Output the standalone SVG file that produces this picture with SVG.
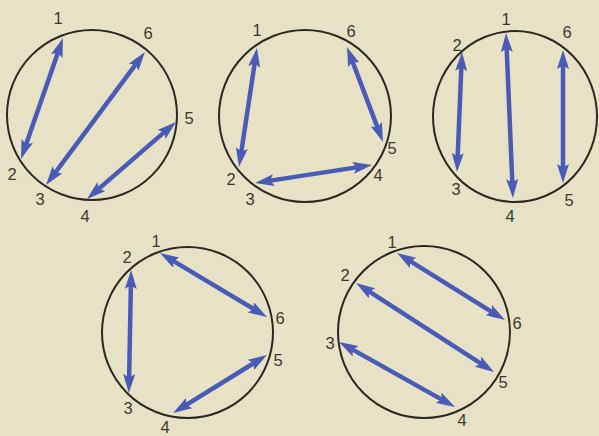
<svg xmlns="http://www.w3.org/2000/svg" width="599" height="436" viewBox="0 0 599 436">
<style>
.bg{fill:#e7e2c5}
.ring{fill:none;stroke:#2a2822;stroke-width:2}
.arr{stroke:#4a5bb6;stroke-width:4.5;fill:none;marker-start:url(#head);marker-end:url(#head)}
.lbl{font-family:"Liberation Sans",Arial,sans-serif;font-size:16.5px;fill:#3a3934;text-anchor:middle}
</style>
<defs>
<marker id="head" viewBox="0 0 19 12" markerWidth="19" markerHeight="12" refX="10" refY="6" markerUnits="userSpaceOnUse" orient="auto-start-reverse">
<path d="M0,0 L19,6 L0,12 L3.5,6 Z" fill="#4a5bb6"/>
</marker>
</defs>
<rect class="bg" x="0" y="0" width="599" height="436"/>

<g id="circle1">
<circle class="ring" cx="92" cy="115" r="85"/>
<text class="lbl" x="58" y="24">1</text>
<text class="lbl" x="12" y="180">2</text>
<text class="lbl" x="40" y="205">3</text>
<text class="lbl" x="85" y="222">4</text>
<text class="lbl" x="189" y="124">5</text>
<text class="lbl" x="148" y="39">6</text>
</g>
<g id="circle2">
<circle class="ring" cx="305" cy="116" r="86"/>
<text class="lbl" x="257" y="36">1</text>
<text class="lbl" x="231" y="185">2</text>
<text class="lbl" x="250" y="205">3</text>
<text class="lbl" x="378" y="181">4</text>
<text class="lbl" x="392" y="154">5</text>
<text class="lbl" x="351" y="37">6</text>
</g>
<g id="circle3">
<ellipse class="ring" cx="515" cy="116.5" rx="82" ry="85.5"/>
<text class="lbl" x="506" y="25">1</text>
<text class="lbl" x="457" y="51">2</text>
<text class="lbl" x="456" y="195">3</text>
<text class="lbl" x="510" y="222">4</text>
<text class="lbl" x="569" y="206">5</text>
<text class="lbl" x="567" y="38">6</text>
</g>
<g id="circle4">
<circle class="ring" cx="187.5" cy="332.5" r="85.5"/>
<text class="lbl" x="156" y="247">1</text>
<text class="lbl" x="127" y="263">2</text>
<text class="lbl" x="128" y="414">3</text>
<text class="lbl" x="165" y="433">4</text>
<text class="lbl" x="278" y="366">5</text>
<text class="lbl" x="280" y="324">6</text>
</g>
<g id="circle5">
<circle class="ring" cx="424" cy="332" r="86"/>
<text class="lbl" x="392" y="248">1</text>
<text class="lbl" x="345" y="281">2</text>
<text class="lbl" x="330" y="349">3</text>
<text class="lbl" x="462" y="426">4</text>
<text class="lbl" x="503" y="388">5</text>
<text class="lbl" x="517" y="329">6</text>
</g>

<g id="connectors">
<line class="arr" x1="60.05" y1="46.5" x2="23.95" y2="150.5"/>
<line class="arr" x1="139.6" y1="59.2" x2="51.4" y2="177.8"/>
<line class="arr" x1="169.2" y1="127.9" x2="93.8" y2="193.1"/>

<line class="arr" x1="255.65" y1="56.9" x2="240.35" y2="158.1"/>
<line class="arr" x1="263.9" y1="181.6" x2="363.1" y2="166.4"/>
<line class="arr" x1="350.2" y1="55.4" x2="379.8" y2="133.6"/>

<line class="arr" x1="461.6" y1="61" x2="457.4" y2="163"/>
<line class="arr" x1="506.4" y1="42" x2="512.6" y2="189"/>
<line class="arr" x1="563" y1="59" x2="563" y2="174"/>

<line class="arr" x1="167.7" y1="257.6" x2="259.3" y2="312.4"/>
<line class="arr" x1="131" y1="279" x2="129" y2="384"/>
<line class="arr" x1="259.3" y1="359.7" x2="180.7" y2="408.3"/>

<line class="arr" x1="404.6" y1="257.7" x2="497.3" y2="315.3"/>
<line class="arr" x1="363.6" y1="287.9" x2="486.4" y2="367.1"/>
<line class="arr" x1="346.9" y1="346.4" x2="447.2" y2="402.6"/>
</g>
</svg>
